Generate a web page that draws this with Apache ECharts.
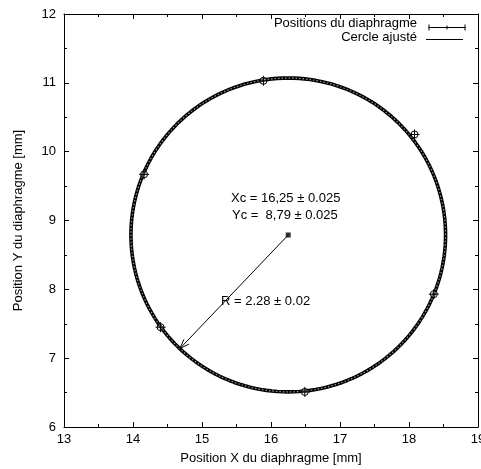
<!DOCTYPE html>
<html><head><meta charset="utf-8">
<script src="https://cdn.jsdelivr.net/npm/echarts@6/dist/echarts.min.js"></script>
<style>html,body{margin:0;padding:0;background:#fff}#c{width:481px;height:469px}</style>
</head><body><div id="c"></div>
<script>
// Measured diaphragm positions [x, y] (mm)
const posX = [15.89, 18.08, 14.16, 18.36, 14.40, 16.49];
const posY = [11.03, 10.25, 9.67, 7.93, 7.45, 6.51];
// Fit parameters
const fitXc = 16.25, fitYc = 8.79, fitR = 2.28;
// Arrow tip on circle
const arrowTip = [14.68, 7.14];
const xTicks = [13, 14, 15, 16, 17, 18, 19];
const yTicks = [6, 7, 8, 9, 10, 11, 12];
const texts = {
  xc: 'Xc = 16,25 \u00b1 0.025',
  yc: 'Yc =  8,79 \u00b1 0.025',
  r: 'R = 2.28 \u00b1 0.02',
  leg1: 'Positions du diaphragme',
  leg2: 'Cercle ajust\u00e9',
  xName: 'Position X du diaphragme [mm]',
  yName: 'Position Y du diaphragme [mm]'
};

const circle = [];
for (let i = 0; i <= 360; i += 2) {
  const a = i * Math.PI / 180;
  circle.push([fitXc + fitR * Math.cos(a), fitYc + fitR * Math.sin(a)]);
}
const pts = posX.map((x, i) => [x, posY[i]]);
const FONT = 'Liberation Sans, Arial, sans-serif';
const FS = 13;

const chart = echarts.init(document.getElementById('c'), null, {renderer: 'canvas'});
const axisCommon = {
  min: 13, max: 19, interval: 1,
  axisLine: {show: true, onZero: false, lineStyle: {color: '#000', width: 1}},
  axisTick: {show: true, inside: true, length: 5, lineStyle: {color: '#000'}},
  minorTick: {show: true, splitNumber: 2, length: 3, lineStyle: {color: '#000'}},
  splitLine: {show: false}
};
chart.setOption({
  animation: false,
  grid: {left: 64, right: 3, top: 14, bottom: 42, containLabel: false, outerBoundsMode: 'none'},
  xAxis: [
    Object.assign({}, axisCommon, {type: 'value', position: 'bottom',
      name: texts.xName, nameLocation: 'middle', nameGap: 25,
      nameTextStyle: {fontFamily: FONT, fontSize: FS, color: '#000'},
      axisLabel: {margin: 6, fontFamily: FONT, fontSize: FS, color: '#000', hideOverlap: false,
        formatter: v => xTicks.includes(v) ? String(v) : ''}}),
    Object.assign({}, axisCommon, {type: 'value', position: 'top',
      axisLabel: {show: false}})
  ],
  yAxis: [
    Object.assign({}, axisCommon, {type: 'value', position: 'left', min: 6, max: 12,
      name: texts.yName, nameLocation: 'middle', nameGap: 39,
      nameTextStyle: {fontFamily: FONT, fontSize: FS, color: '#000'},
      axisLabel: {margin: 8, fontFamily: FONT, fontSize: FS, color: '#000',
        formatter: v => yTicks.includes(v) ? String(v) : ''}}),
    Object.assign({}, axisCommon, {type: 'value', position: 'right', min: 6, max: 12,
      axisLabel: {show: false}})
  ],
  series: [
    {type: 'line', data: circle, showSymbol: false, lineStyle: {color: '#000', width: 3.6}, z: 2},
    {type: 'line', data: circle, showSymbol: false, lineStyle: {color: '#999', width: 1.2, type: [1.5, 2]}, z: 3},
    {type: 'custom', data: pts, z: 5,
      renderItem: function (params, api) {
        const p = api.coord([api.value(0), api.value(1)]);
        const e = 5;
        return {type: 'group', children: [
          {type: 'circle', shape: {cx: p[0], cy: p[1], r: 3.5}, style: {fill: 'rgba(255,255,255,0.3)', stroke: '#000', lineWidth: 1}},
          {type: 'line', shape: {x1: p[0] - e, y1: p[1], x2: p[0] + e, y2: p[1]}, style: {stroke: '#000', lineWidth: 1}},
          {type: 'line', shape: {x1: p[0], y1: p[1] - e, x2: p[0], y2: p[1] + e}, style: {stroke: '#000', lineWidth: 1}}
        ]};
      }},
    {type: 'scatter', data: [[fitXc, fitYc]], symbol: 'rect', symbolSize: 5, itemStyle: {color: '#000'}, z: 6},
    {type: 'custom', data: [[fitXc, fitYc, arrowTip[0], arrowTip[1]]], z: 6,
      renderItem: function (params, api) {
        const a = api.coord([api.value(0), api.value(1)]);
        const b = api.coord([api.value(2), api.value(3)]);
        const ang = Math.atan2(b[1] - a[1], b[0] - a[0]);
        const L = 10, w = 0.35;
        const h1 = [b[0] - L * Math.cos(ang - w), b[1] - L * Math.sin(ang - w)];
        const h2 = [b[0] - L * Math.cos(ang + w), b[1] - L * Math.sin(ang + w)];
        return {type: 'group', children: [
          {type: 'line', shape: {x1: a[0], y1: a[1], x2: b[0], y2: b[1]}, style: {stroke: '#000', lineWidth: 1}},
          {type: 'polyline', shape: {points: [h1, b, h2]}, style: {stroke: '#000', fill: 'none', lineWidth: 1}}
        ]};
      }}
  ]
});

const ts = {fontFamily: FONT, fontSize: FS, fill: '#000'};
chart.setOption({graphic: [
  {type: 'text', left: 231, top: 192, style: Object.assign({text: texts.xc}, ts)},
  {type: 'text', left: 232, top: 209, style: Object.assign({text: texts.yc}, ts)},
  {type: 'text', left: 221, top: 295, style: Object.assign({text: texts.r}, ts)},
  {type: 'text', right: 64, top: 17, style: Object.assign({text: texts.leg1, textAlign: 'right'}, ts)},
  {type: 'text', right: 64, top: 31, style: Object.assign({text: texts.leg2, textAlign: 'right'}, ts)},
  {type: 'group', left: 426, top: 22, children: [
    {type: 'line', shape: {x1: 0, y1: 3, x2: 37, y2: 3}, style: {stroke: '#000', lineWidth: 1}},
    {type: 'line', shape: {x1: 0.5, y1: 0, x2: 0.5, y2: 6}, style: {stroke: '#000', lineWidth: 1}},
    {type: 'line', shape: {x1: 36.5, y1: 0, x2: 36.5, y2: 6}, style: {stroke: '#000', lineWidth: 1}},
    {type: 'line', shape: {x1: 18.5, y1: 1, x2: 18.5, y2: 5}, style: {stroke: '#000', lineWidth: 1}}
  ]},
  {type: 'line', shape: {x1: 426, y1: 39.5, x2: 463, y2: 39.5}, style: {stroke: '#000', lineWidth: 1}}
]});
</script></body></html>
